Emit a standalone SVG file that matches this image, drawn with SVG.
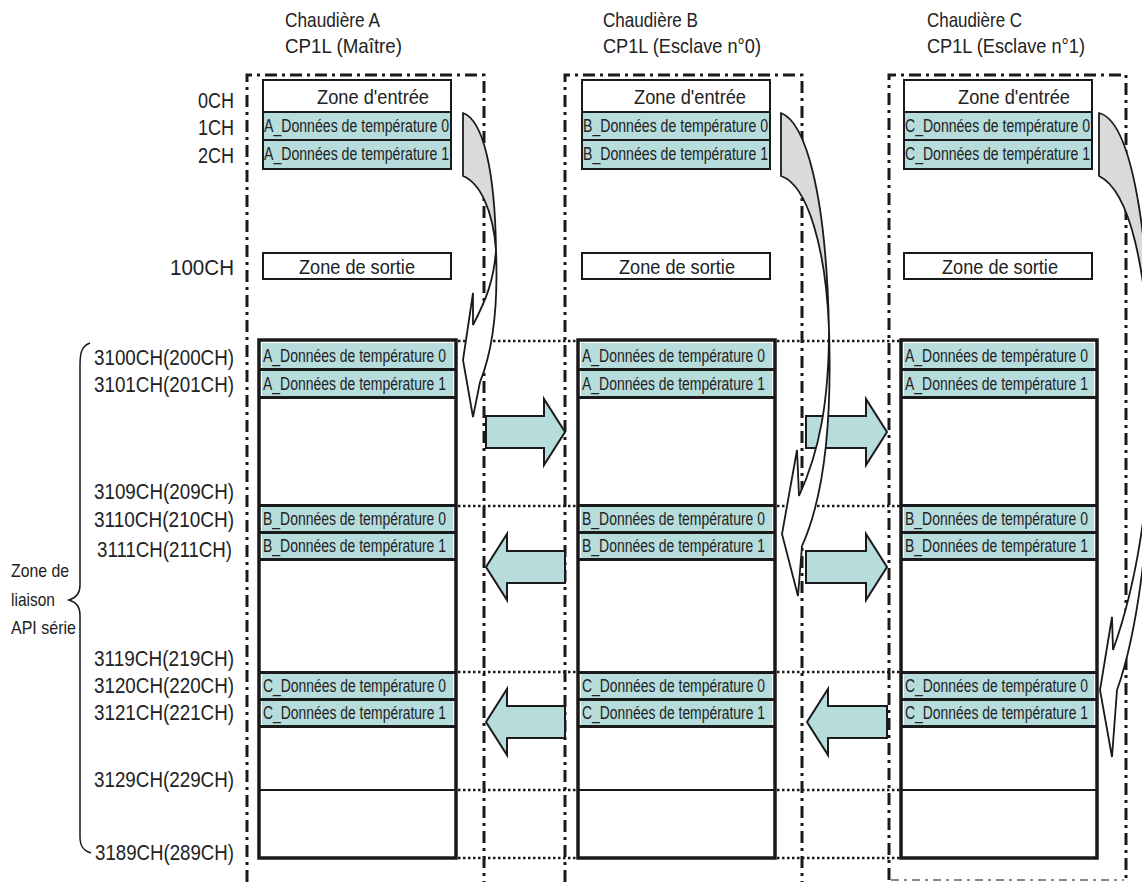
<svg xmlns="http://www.w3.org/2000/svg" width="1142" height="882" viewBox="0 0 1142 882">
<defs>
<style>
text{font-family:"Liberation Sans Narrow","Liberation Sans",Arial,sans-serif;fill:#222;}
.hdr{font-size:21px;}
.lbl{font-size:22px;}
.side{font-size:19px;}
.zone{font-size:21px;}
.row{font-size:17.5px;}
.frame{fill:none;stroke:#1a1a1a;stroke-width:3;stroke-dasharray:12 5 3 5;}
.frame2{fill:none;stroke:#888;stroke-width:2;stroke-dasharray:8 5 3 5;}
.sbox{fill:#fff;stroke:#1a1a1a;stroke-width:2;}
.srow{fill:#b7dcdc;stroke:#1a1a1a;stroke-width:2;}
.bbox{fill:#fff;stroke:#1a1a1a;stroke-width:3.5;}
.bfill{fill:#b7dcdc;}
.sep{stroke:#1a1a1a;stroke-width:3;}
.thin{stroke:#1a1a1a;stroke-width:2;}
.dot{stroke:#1a1a1a;stroke-width:2.5;stroke-dasharray:2.5 2.5;fill:none;}
.barrow{fill:#b7dcdc;stroke:#1a1a1a;stroke-width:2;stroke-linejoin:miter;}
.cgrey{fill:#dadada;stroke:#1a1a1a;stroke-width:1.8;stroke-linejoin:round;}
.cwhite{fill:#fff;stroke:#1a1a1a;stroke-width:1.8;stroke-linejoin:miter;}
</style>
</defs>
<rect width="1142" height="882" fill="#fff"/>

<!-- left labels -->
<g id="labels">
<text class="lbl" x="234" y="108" text-anchor="end" textLength="36" lengthAdjust="spacingAndGlyphs">0CH</text>
<text class="lbl" x="234" y="135" text-anchor="end" textLength="36" lengthAdjust="spacingAndGlyphs">1CH</text>
<text class="lbl" x="234" y="163" text-anchor="end" textLength="36" lengthAdjust="spacingAndGlyphs">2CH</text>
<text class="lbl" x="234" y="275" text-anchor="end" textLength="64" lengthAdjust="spacingAndGlyphs">100CH</text>
<text class="lbl" x="234" y="365" text-anchor="end" textLength="140" lengthAdjust="spacingAndGlyphs">3100CH(200CH)</text>
<text class="lbl" x="234" y="392" text-anchor="end" textLength="140" lengthAdjust="spacingAndGlyphs">3101CH(201CH)</text>
<text class="lbl" x="234" y="499" text-anchor="end" textLength="140" lengthAdjust="spacingAndGlyphs">3109CH(209CH)</text>
<text class="lbl" x="234" y="527" text-anchor="end" textLength="140" lengthAdjust="spacingAndGlyphs">3110CH(210CH)</text>
<text class="lbl" x="232" y="557" text-anchor="end" textLength="135" lengthAdjust="spacingAndGlyphs">3111CH(211CH)</text>
<text class="lbl" x="234" y="666" text-anchor="end" textLength="140" lengthAdjust="spacingAndGlyphs">3119CH(219CH)</text>
<text class="lbl" x="234" y="693" text-anchor="end" textLength="140" lengthAdjust="spacingAndGlyphs">3120CH(220CH)</text>
<text class="lbl" x="234" y="720" text-anchor="end" textLength="140" lengthAdjust="spacingAndGlyphs">3121CH(221CH)</text>
<text class="lbl" x="234" y="787" text-anchor="end" textLength="140" lengthAdjust="spacingAndGlyphs">3129CH(229CH)</text>
<text class="lbl" x="234" y="860" text-anchor="end" textLength="139" lengthAdjust="spacingAndGlyphs">3189CH(289CH)</text>
<text class="side" x="11" y="577" textLength="58" lengthAdjust="spacingAndGlyphs">Zone de</text>
<text class="side" x="11" y="606" textLength="44" lengthAdjust="spacingAndGlyphs">liaison</text>
<text class="side" x="11" y="634" textLength="65" lengthAdjust="spacingAndGlyphs">API série</text>
<path d="M90,343 C82,346 80,352 80,365 L80,585 C80,594 76,598 69,600 C76,602 80,606 80,615 L80,837 C80,847 84,851 91,853" fill="none" stroke="#1a1a1a" stroke-width="1.5"/>
</g>

<!-- Column A -->
<g id="col-A">
<text class="hdr" x="285" y="27" textLength="95" lengthAdjust="spacingAndGlyphs">Chaudière A</text>
<text class="hdr" x="285" y="53" textLength="117" lengthAdjust="spacingAndGlyphs">CP1L (Maître)</text>
<path class="frame" d="M247,882 L247,75 L484,75 L484,882"/>
<rect class="sbox" x="263" y="80" width="188" height="32"/>
<rect class="srow" x="263" y="112" width="188" height="28"/>
<rect class="srow" x="263" y="140" width="188" height="29"/>
<text class="zone" x="317" y="104" textLength="112" lengthAdjust="spacingAndGlyphs">Zone d'entrée</text>
<text class="row" x="264" y="132" textLength="185" lengthAdjust="spacingAndGlyphs">A_Données de température 0</text>
<text class="row" x="264" y="160" textLength="185" lengthAdjust="spacingAndGlyphs">A_Données de température 1</text>
<rect class="sbox" x="263" y="253" width="188" height="26"/>
<text class="zone" x="357" y="274" text-anchor="middle" textLength="116" lengthAdjust="spacingAndGlyphs">Zone de sortie</text>
<rect class="bbox" x="259" y="340" width="197" height="518"/>
<rect class="bfill" x="262" y="343" width="191" height="25"/>
<rect class="bfill" x="262" y="371" width="191" height="25"/>
<line class="sep" x1="260" y1="369.5" x2="455" y2="369.5"/>
<line class="sep" x1="260" y1="397.5" x2="455" y2="397.5"/>
<rect class="bfill" x="262" y="507" width="191" height="24"/>
<rect class="bfill" x="262" y="534" width="191" height="24"/>
<line class="sep" x1="260" y1="505.5" x2="455" y2="505.5"/>
<line class="sep" x1="260" y1="532.5" x2="455" y2="532.5"/>
<line class="sep" x1="260" y1="559.5" x2="455" y2="559.5"/>
<rect class="bfill" x="262" y="674" width="191" height="24"/>
<rect class="bfill" x="262" y="701" width="191" height="24"/>
<line class="sep" x1="260" y1="672.5" x2="455" y2="672.5"/>
<line class="sep" x1="260" y1="699.5" x2="455" y2="699.5"/>
<line class="sep" x1="260" y1="726.5" x2="455" y2="726.5"/>
<line class="thin" x1="260" y1="790" x2="455" y2="790"/>
<text class="row" x="263" y="362" textLength="183" lengthAdjust="spacingAndGlyphs">A_Données de température 0</text>
<text class="row" x="263" y="390" textLength="183" lengthAdjust="spacingAndGlyphs">A_Données de température 1</text>
<text class="row" x="263" y="525" textLength="183" lengthAdjust="spacingAndGlyphs">B_Données de température 0</text>
<text class="row" x="263" y="552" textLength="183" lengthAdjust="spacingAndGlyphs">B_Données de température 1</text>
<text class="row" x="263" y="692" textLength="183" lengthAdjust="spacingAndGlyphs">C_Données de température 0</text>
<text class="row" x="263" y="719" textLength="183" lengthAdjust="spacingAndGlyphs">C_Données de température 1</text>
</g>

<!-- Column B -->
<g id="col-B">
<text class="hdr" x="603" y="27" textLength="95" lengthAdjust="spacingAndGlyphs">Chaudière B</text>
<text class="hdr" x="603" y="53" textLength="158" lengthAdjust="spacingAndGlyphs">CP1L (Esclave n°0)</text>
<path class="frame" d="M565,882 L565,75 L802,75 L802,882"/>
<rect class="sbox" x="582" y="80" width="188" height="32"/>
<rect class="srow" x="582" y="112" width="188" height="28"/>
<rect class="srow" x="582" y="140" width="188" height="29"/>
<text class="zone" x="634" y="104" textLength="112" lengthAdjust="spacingAndGlyphs">Zone d'entrée</text>
<text class="row" x="583" y="132" textLength="185" lengthAdjust="spacingAndGlyphs">B_Données de température 0</text>
<text class="row" x="583" y="160" textLength="185" lengthAdjust="spacingAndGlyphs">B_Données de température 1</text>
<rect class="sbox" x="582" y="253" width="188" height="26"/>
<text class="zone" x="677" y="274" text-anchor="middle" textLength="116" lengthAdjust="spacingAndGlyphs">Zone de sortie</text>
<rect class="bbox" x="578" y="340" width="197" height="518"/>
<rect class="bfill" x="581" y="343" width="191" height="25"/>
<rect class="bfill" x="581" y="371" width="191" height="25"/>
<line class="sep" x1="579" y1="369.5" x2="774" y2="369.5"/>
<line class="sep" x1="579" y1="397.5" x2="774" y2="397.5"/>
<rect class="bfill" x="581" y="507" width="191" height="24"/>
<rect class="bfill" x="581" y="534" width="191" height="24"/>
<line class="sep" x1="579" y1="505.5" x2="774" y2="505.5"/>
<line class="sep" x1="579" y1="532.5" x2="774" y2="532.5"/>
<line class="sep" x1="579" y1="559.5" x2="774" y2="559.5"/>
<rect class="bfill" x="581" y="674" width="191" height="24"/>
<rect class="bfill" x="581" y="701" width="191" height="24"/>
<line class="sep" x1="579" y1="672.5" x2="774" y2="672.5"/>
<line class="sep" x1="579" y1="699.5" x2="774" y2="699.5"/>
<line class="sep" x1="579" y1="726.5" x2="774" y2="726.5"/>
<line class="thin" x1="579" y1="790" x2="774" y2="790"/>
<text class="row" x="582" y="362" textLength="183" lengthAdjust="spacingAndGlyphs">A_Données de température 0</text>
<text class="row" x="582" y="390" textLength="183" lengthAdjust="spacingAndGlyphs">A_Données de température 1</text>
<text class="row" x="582" y="525" textLength="183" lengthAdjust="spacingAndGlyphs">B_Données de température 0</text>
<text class="row" x="582" y="552" textLength="183" lengthAdjust="spacingAndGlyphs">B_Données de température 1</text>
<text class="row" x="582" y="692" textLength="183" lengthAdjust="spacingAndGlyphs">C_Données de température 0</text>
<text class="row" x="582" y="719" textLength="183" lengthAdjust="spacingAndGlyphs">C_Données de température 1</text>
</g>

<!-- Column C -->
<g id="col-C">
<text class="hdr" x="927" y="27" textLength="95" lengthAdjust="spacingAndGlyphs">Chaudière C</text>
<text class="hdr" x="927" y="53" textLength="158" lengthAdjust="spacingAndGlyphs">CP1L (Esclave n°1)</text>
<path class="frame" d="M889,880 L889,75 L1126,75 L1126,880"/>
<line class="frame2" x1="891" y1="880" x2="1124" y2="880"/>
<rect class="sbox" x="904" y="80" width="188" height="32"/>
<rect class="srow" x="904" y="112" width="188" height="28"/>
<rect class="srow" x="904" y="140" width="188" height="29"/>
<text class="zone" x="958" y="104" textLength="112" lengthAdjust="spacingAndGlyphs">Zone d'entrée</text>
<text class="row" x="905" y="132" textLength="185" lengthAdjust="spacingAndGlyphs">C_Données de température 0</text>
<text class="row" x="905" y="160" textLength="185" lengthAdjust="spacingAndGlyphs">C_Données de température 1</text>
<rect class="sbox" x="904" y="253" width="188" height="26"/>
<text class="zone" x="1000" y="274" text-anchor="middle" textLength="116" lengthAdjust="spacingAndGlyphs">Zone de sortie</text>
<rect class="bbox" x="901" y="340" width="196" height="518"/>
<rect class="bfill" x="904" y="343" width="190" height="25"/>
<rect class="bfill" x="904" y="371" width="190" height="25"/>
<line class="sep" x1="902" y1="369.5" x2="1096" y2="369.5"/>
<line class="sep" x1="902" y1="397.5" x2="1096" y2="397.5"/>
<rect class="bfill" x="904" y="507" width="190" height="24"/>
<rect class="bfill" x="904" y="534" width="190" height="24"/>
<line class="sep" x1="902" y1="505.5" x2="1096" y2="505.5"/>
<line class="sep" x1="902" y1="532.5" x2="1096" y2="532.5"/>
<line class="sep" x1="902" y1="559.5" x2="1096" y2="559.5"/>
<rect class="bfill" x="904" y="674" width="190" height="24"/>
<rect class="bfill" x="904" y="701" width="190" height="24"/>
<line class="sep" x1="902" y1="672.5" x2="1096" y2="672.5"/>
<line class="sep" x1="902" y1="699.5" x2="1096" y2="699.5"/>
<line class="sep" x1="902" y1="726.5" x2="1096" y2="726.5"/>
<line class="thin" x1="902" y1="790" x2="1096" y2="790"/>
<text class="row" x="905" y="362" textLength="183" lengthAdjust="spacingAndGlyphs">A_Données de température 0</text>
<text class="row" x="905" y="390" textLength="183" lengthAdjust="spacingAndGlyphs">A_Données de température 1</text>
<text class="row" x="905" y="525" textLength="183" lengthAdjust="spacingAndGlyphs">B_Données de température 0</text>
<text class="row" x="905" y="552" textLength="183" lengthAdjust="spacingAndGlyphs">B_Données de température 1</text>
<text class="row" x="905" y="692" textLength="183" lengthAdjust="spacingAndGlyphs">C_Données de température 0</text>
<text class="row" x="905" y="719" textLength="183" lengthAdjust="spacingAndGlyphs">C_Données de température 1</text>
</g>

<!-- connectors -->
<g id="connectors">
<g id="dotted-links">
<path class="dot" d="M458,341 H577 M777,341 H900 M458,506 H577 M777,506 H900 M458,672 H577 M777,672 H900 M458,790 H577 M777,790 H900 M458,858 H577 M777,858 H900"/>
</g>
<g id="block-arrows">
<path class="barrow" d="M486,416 H544 V399 L565,432 L544,465 V448 H486 Z"/>
<path class="barrow" d="M806,416 H866 V399 L887,432 L866,465 V448 H806 Z"/>
<path class="barrow" d="M565,551 H507 V534 L486,567 L507,600 V583 H565 Z"/>
<path class="barrow" d="M806,551 H866 V534 L887,567 L866,600 V583 H806 Z"/>
<path class="barrow" d="M565,706 H507 V689 L486,722 L507,755 V738 H565 Z"/>
<path class="barrow" d="M887,706 H828 V689 L807,722 L828,755 V738 H887 Z"/>
</g>
<g id="curved-A">
<path class="cgrey" d="M463,113 C483,120 495,170 496,250 C493,210 480,183 463,176 Z"/>
<path class="cwhite" d="M496,250 C498,300 495,345 480,382 L473,417 L463,360 L473,293 L473,325 C486,300 494,280 496,250 Z"/>
</g>
<g id="curved-B">
<path class="cgrey" d="M781,113 C805,122 826,190 829,329 C826,250 808,185 781,176 Z"/>
<path class="cwhite" d="M829,329 C832,420 825,495 802,546 L798,596 L782,534 L797,450 L799,496 C820,450 829,400 829,329 Z"/>
</g>
<g id="curved-C">
<path class="cgrey" d="M1099,113 C1128,120 1150,210 1152,400 C1148,260 1128,190 1099,176 Z"/>
<path class="cwhite" d="M1152,400 C1152,540 1135,640 1117,690 L1112,757 L1100,690 L1112,617 L1113,650 C1138,580 1150,500 1152,400 Z"/>
</g>
</g>
</svg>
